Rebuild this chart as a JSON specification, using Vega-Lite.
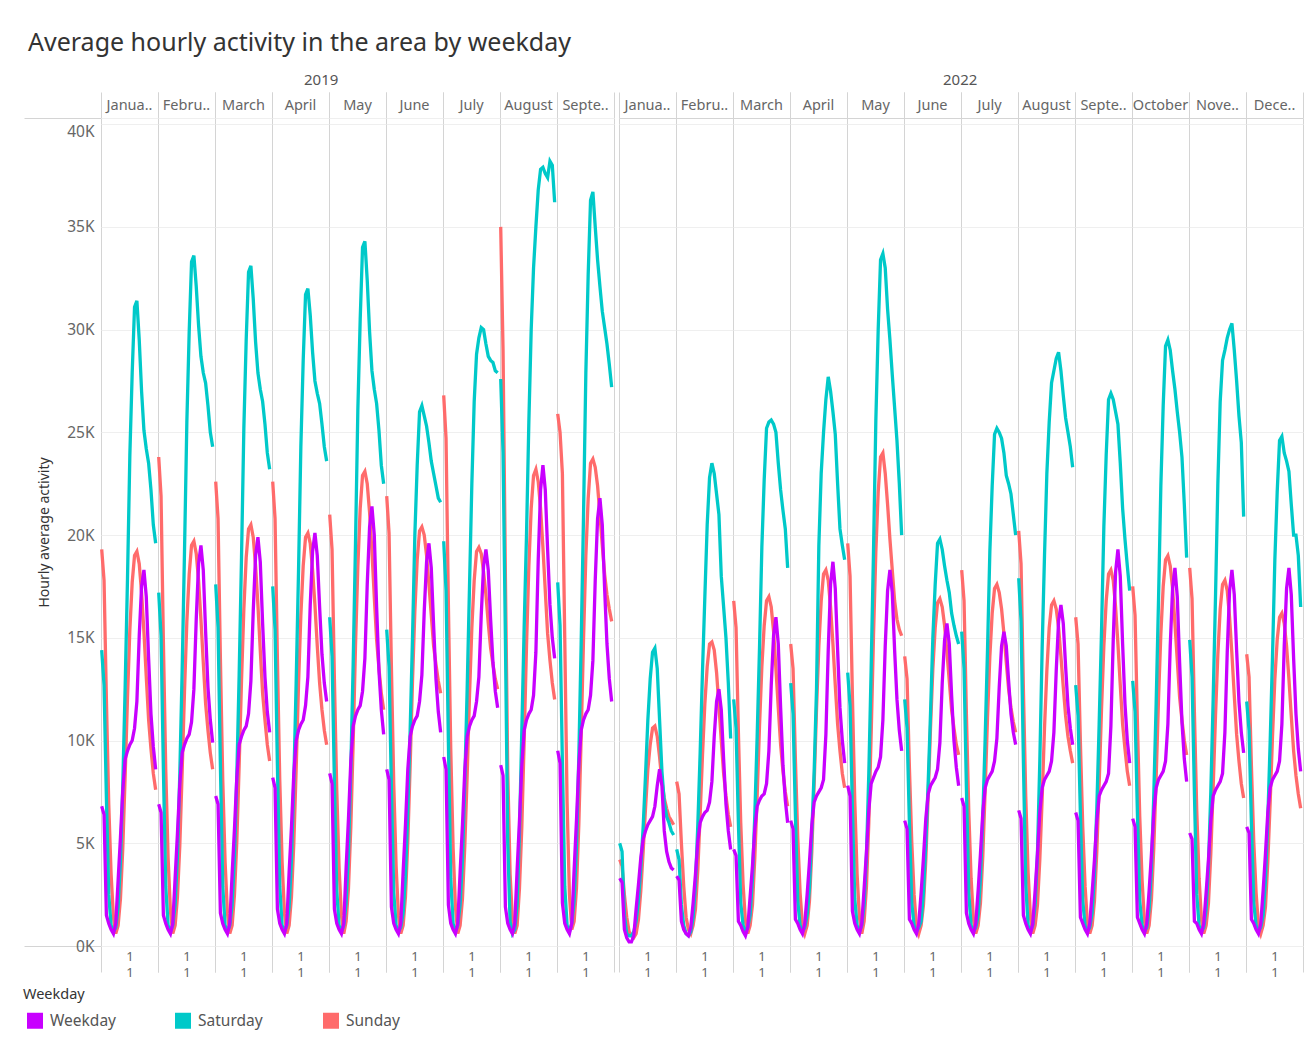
{
"$schema":"https://vega.github.io/schema/vega-lite/v6.json",
"background":"white",
"padding":{"left":23,"top":30,"right":5,"bottom":6},
"title":{"text":"Average hourly activity in the area by weekday","anchor":"start","font":"Noto Sans","fontSize":25,"fontWeight":"normal","color":"#333333","dx":5,"offset":17},
"datasets":{
"y19":[
{"m":"Janua..","h":0,"W":6.8,"Sa":14.4,"Su":19.3},{"m":"Janua..","h":1,"W":6.4,"Sa":12.7,"Su":17.8},{"m":"Janua..","h":2,"W":1.5,"Sa":7.2,"Su":12.0},{"m":"Janua..","h":3,"W":1.1,"Sa":2.5,"Su":6.9},{"m":"Janua..","h":4,"W":0.8,"Sa":1.0,"Su":3.5},{"m":"Janua..","h":5,"W":0.6,"Sa":0.7,"Su":1.4},{"m":"Janua..","h":6,"W":1.1,"Sa":0.9,"Su":0.6},{"m":"Janua..","h":7,"W":3.2,"Sa":1.9,"Su":1.0},{"m":"Janua..","h":8,"W":5.3,"Sa":4.1,"Su":2.3},{"m":"Janua..","h":9,"W":7.6,"Sa":7.9,"Su":4.8},{"m":"Janua..","h":10,"W":9.1,"Sa":12.6,"Su":8.3},{"m":"Janua..","h":11,"W":9.5,"Sa":17.9,"Su":12.1},{"m":"Janua..","h":12,"W":9.8,"Sa":23.9,"Su":15.4},{"m":"Janua..","h":13,"W":10.0,"Sa":27.9,"Su":17.7},{"m":"Janua..","h":14,"W":10.6,"Sa":31.1,"Su":19.0},{"m":"Janua..","h":15,"W":11.9,"Sa":31.4,"Su":19.2},{"m":"Janua..","h":16,"W":15.1,"Sa":29.5,"Su":18.6},{"m":"Janua..","h":17,"W":17.5,"Sa":27.0,"Su":17.2},{"m":"Janua..","h":18,"W":18.3,"Sa":25.1,"Su":15.3},{"m":"Janua..","h":19,"W":17.0,"Sa":24.2,"Su":13.1},{"m":"Janua..","h":20,"W":14.0,"Sa":23.5,"Su":11.0},{"m":"Janua..","h":21,"W":11.3,"Sa":22.2,"Su":9.6},{"m":"Janua..","h":22,"W":9.7,"Sa":20.5,"Su":8.4},{"m":"Janua..","h":23,"W":8.6,"Sa":19.6,"Su":7.6},
{"m":"Febru..","h":0,"W":6.9,"Sa":17.2,"Su":23.8},{"m":"Febru..","h":1,"W":6.5,"Sa":15.1,"Su":21.9},{"m":"Febru..","h":2,"W":1.5,"Sa":8.6,"Su":14.8},{"m":"Febru..","h":3,"W":1.1,"Sa":2.9,"Su":8.6},{"m":"Febru..","h":4,"W":0.8,"Sa":1.0,"Su":4.3},{"m":"Febru..","h":5,"W":0.6,"Sa":0.7,"Su":1.7},{"m":"Febru..","h":6,"W":1.1,"Sa":1.0,"Su":0.6},{"m":"Febru..","h":7,"W":3.3,"Sa":2.0,"Su":1.0},{"m":"Febru..","h":8,"W":5.5,"Sa":4.4,"Su":2.4},{"m":"Febru..","h":9,"W":7.9,"Sa":8.4,"Su":4.9},{"m":"Febru..","h":10,"W":9.4,"Sa":13.4,"Su":8.5},{"m":"Febru..","h":11,"W":9.8,"Sa":19.2,"Su":12.4},{"m":"Febru..","h":12,"W":10.1,"Sa":25.5,"Su":15.8},{"m":"Febru..","h":13,"W":10.3,"Sa":29.9,"Su":18.1},{"m":"Febru..","h":14,"W":10.9,"Sa":33.3,"Su":19.5},{"m":"Febru..","h":15,"W":12.5,"Sa":33.6,"Su":19.7},{"m":"Febru..","h":16,"W":15.9,"Sa":32.1,"Su":19.1},{"m":"Febru..","h":17,"W":18.6,"Sa":30.2,"Su":17.8},{"m":"Febru..","h":18,"W":19.5,"Sa":28.7,"Su":15.9},{"m":"Febru..","h":19,"W":18.3,"Sa":27.9,"Su":13.8},{"m":"Febru..","h":20,"W":15.3,"Sa":27.4,"Su":11.8},{"m":"Febru..","h":21,"W":12.6,"Sa":26.3,"Su":10.5},{"m":"Febru..","h":22,"W":11.0,"Sa":25.0,"Su":9.4},{"m":"Febru..","h":23,"W":9.9,"Sa":24.3,"Su":8.6},
{"m":"March","h":0,"W":7.3,"Sa":17.6,"Su":22.6},{"m":"March","h":1,"W":6.9,"Sa":15.5,"Su":20.8},{"m":"March","h":2,"W":1.6,"Sa":8.8,"Su":14.0},{"m":"March","h":3,"W":1.1,"Sa":2.9,"Su":8.1},{"m":"March","h":4,"W":0.8,"Sa":1.0,"Su":4.1},{"m":"March","h":5,"W":0.6,"Sa":0.7,"Su":1.6},{"m":"March","h":6,"W":1.1,"Sa":1.0,"Su":0.6},{"m":"March","h":7,"W":3.5,"Sa":2.0,"Su":1.0},{"m":"March","h":8,"W":5.7,"Sa":4.3,"Su":2.5},{"m":"March","h":9,"W":8.2,"Sa":8.3,"Su":5.1},{"m":"March","h":10,"W":9.8,"Sa":13.2,"Su":8.8},{"m":"March","h":11,"W":10.2,"Sa":18.9,"Su":12.9},{"m":"March","h":12,"W":10.5,"Sa":25.2,"Su":16.4},{"m":"March","h":13,"W":10.7,"Sa":29.5,"Su":18.9},{"m":"March","h":14,"W":11.3,"Sa":32.8,"Su":20.3},{"m":"March","h":15,"W":12.9,"Sa":33.1,"Su":20.5},{"m":"March","h":16,"W":16.3,"Sa":31.5,"Su":19.9},{"m":"March","h":17,"W":19.0,"Sa":29.4,"Su":18.5},{"m":"March","h":18,"W":19.9,"Sa":27.9,"Su":16.6},{"m":"March","h":19,"W":18.7,"Sa":27.1,"Su":14.4},{"m":"March","h":20,"W":15.7,"Sa":26.5,"Su":12.3},{"m":"March","h":21,"W":13.1,"Sa":25.4,"Su":11.0},{"m":"March","h":22,"W":11.4,"Sa":24.0,"Su":9.8},{"m":"March","h":23,"W":10.4,"Sa":23.2,"Su":9.0},
{"m":"April","h":0,"W":8.2,"Sa":17.5,"Su":22.6},{"m":"April","h":1,"W":7.7,"Sa":15.4,"Su":20.8},{"m":"April","h":2,"W":1.8,"Sa":8.8,"Su":14.0},{"m":"April","h":3,"W":1.1,"Sa":2.9,"Su":8.1},{"m":"April","h":4,"W":0.8,"Sa":1.0,"Su":4.1},{"m":"April","h":5,"W":0.6,"Sa":0.7,"Su":1.6},{"m":"April","h":6,"W":1.1,"Sa":1.0,"Su":0.6},{"m":"April","h":7,"W":3.6,"Sa":1.9,"Su":1.0},{"m":"April","h":8,"W":5.8,"Sa":4.2,"Su":2.4},{"m":"April","h":9,"W":8.4,"Sa":8.0,"Su":5.0},{"m":"April","h":10,"W":10.0,"Sa":12.8,"Su":8.6},{"m":"April","h":11,"W":10.5,"Sa":18.2,"Su":12.7},{"m":"April","h":12,"W":10.8,"Sa":24.3,"Su":16.1},{"m":"April","h":13,"W":11.0,"Sa":28.5,"Su":18.5},{"m":"April","h":14,"W":11.7,"Sa":31.7,"Su":19.9},{"m":"April","h":15,"W":13.1,"Sa":32.0,"Su":20.1},{"m":"April","h":16,"W":16.6,"Sa":30.7,"Su":19.6},{"m":"April","h":17,"W":19.2,"Sa":28.9,"Su":18.3},{"m":"April","h":18,"W":20.1,"Sa":27.5,"Su":16.6},{"m":"April","h":19,"W":19.0,"Sa":26.9,"Su":14.6},{"m":"April","h":20,"W":16.5,"Sa":26.4,"Su":12.8},{"m":"April","h":21,"W":14.2,"Sa":25.4,"Su":11.5},{"m":"April","h":22,"W":12.8,"Sa":24.3,"Su":10.5},{"m":"April","h":23,"W":11.9,"Sa":23.6,"Su":9.8},
{"m":"May","h":0,"W":8.4,"Sa":16.0,"Su":21.0},{"m":"May","h":1,"W":7.9,"Sa":14.1,"Su":19.3},{"m":"May","h":2,"W":1.8,"Sa":8.0,"Su":13.0},{"m":"May","h":3,"W":1.1,"Sa":2.7,"Su":7.6},{"m":"May","h":4,"W":0.8,"Sa":1.0,"Su":3.8},{"m":"May","h":5,"W":0.6,"Sa":0.7,"Su":1.5},{"m":"May","h":6,"W":1.1,"Sa":1.0,"Su":0.6},{"m":"May","h":7,"W":3.8,"Sa":2.1,"Su":1.2},{"m":"May","h":8,"W":6.2,"Sa":4.5,"Su":2.8},{"m":"May","h":9,"W":9.0,"Sa":8.6,"Su":5.8},{"m":"May","h":10,"W":10.7,"Sa":13.7,"Su":9.9},{"m":"May","h":11,"W":11.2,"Sa":19.6,"Su":14.6},{"m":"May","h":12,"W":11.5,"Sa":26.1,"Su":18.5},{"m":"May","h":13,"W":11.7,"Sa":30.5,"Su":21.3},{"m":"May","h":14,"W":12.4,"Sa":34.0,"Su":22.9},{"m":"May","h":15,"W":14.0,"Sa":34.3,"Su":23.1},{"m":"May","h":16,"W":17.6,"Sa":32.4,"Su":22.5},{"m":"May","h":17,"W":20.4,"Sa":29.9,"Su":21.1},{"m":"May","h":18,"W":21.4,"Sa":28.0,"Su":19.2},{"m":"May","h":19,"W":20.0,"Sa":27.1,"Su":17.0},{"m":"May","h":20,"W":16.5,"Sa":26.4,"Su":14.9},{"m":"May","h":21,"W":13.4,"Sa":25.1,"Su":13.5},{"m":"May","h":22,"W":11.5,"Sa":23.4,"Su":12.3},{"m":"May","h":23,"W":10.3,"Sa":22.5,"Su":11.5},
{"m":"June","h":0,"W":8.6,"Sa":15.4,"Su":21.9},{"m":"June","h":1,"W":8.1,"Sa":13.6,"Su":20.1},{"m":"June","h":2,"W":1.9,"Sa":7.7,"Su":13.6},{"m":"June","h":3,"W":1.1,"Sa":2.6,"Su":7.9},{"m":"June","h":4,"W":0.8,"Sa":1.0,"Su":3.9},{"m":"June","h":5,"W":0.6,"Sa":0.7,"Su":1.5},{"m":"June","h":6,"W":1.1,"Sa":0.9,"Su":0.6},{"m":"June","h":7,"W":3.6,"Sa":1.6,"Su":1.0},{"m":"June","h":8,"W":5.9,"Sa":3.4,"Su":2.4},{"m":"June","h":9,"W":8.6,"Sa":6.6,"Su":5.1},{"m":"June","h":10,"W":10.2,"Sa":10.5,"Su":8.8},{"m":"June","h":11,"W":10.7,"Sa":15.0,"Su":12.9},{"m":"June","h":12,"W":11.0,"Sa":20.0,"Su":16.3},{"m":"June","h":13,"W":11.2,"Sa":23.4,"Su":18.8},{"m":"June","h":14,"W":11.9,"Sa":26.0,"Su":20.2},{"m":"June","h":15,"W":13.2,"Sa":26.3,"Su":20.4},{"m":"June","h":16,"W":16.3,"Sa":25.8,"Su":20.0},{"m":"June","h":17,"W":18.7,"Sa":25.3,"Su":19.0},{"m":"June","h":18,"W":19.6,"Sa":24.5,"Su":17.6},{"m":"June","h":19,"W":18.4,"Sa":23.6,"Su":16.1},{"m":"June","h":20,"W":15.6,"Sa":23.0,"Su":14.6},{"m":"June","h":21,"W":13.0,"Sa":22.4,"Su":13.7},{"m":"June","h":22,"W":11.4,"Sa":21.8,"Su":12.9},{"m":"June","h":23,"W":10.4,"Sa":21.6,"Su":12.3},
{"m":"July","h":0,"W":9.2,"Sa":19.7,"Su":26.8},{"m":"July","h":1,"W":8.6,"Sa":17.3,"Su":24.7},{"m":"July","h":2,"W":2.0,"Sa":9.9,"Su":16.6},{"m":"July","h":3,"W":1.1,"Sa":3.3,"Su":9.6},{"m":"July","h":4,"W":0.8,"Sa":1.1,"Su":4.8},{"m":"July","h":5,"W":0.6,"Sa":0.7,"Su":1.9},{"m":"July","h":6,"W":1.1,"Sa":1.0,"Su":0.6},{"m":"July","h":7,"W":3.6,"Sa":2.0,"Su":1.0},{"m":"July","h":8,"W":5.9,"Sa":4.2,"Su":2.3},{"m":"July","h":9,"W":8.6,"Sa":8.0,"Su":4.9},{"m":"July","h":10,"W":10.2,"Sa":12.5,"Su":8.3},{"m":"July","h":11,"W":10.7,"Sa":17.5,"Su":12.2},{"m":"July","h":12,"W":11.0,"Sa":22.5,"Su":15.5},{"m":"July","h":13,"W":11.2,"Sa":26.5,"Su":17.8},{"m":"July","h":14,"W":11.9,"Sa":28.8,"Su":19.2},{"m":"July","h":15,"W":13.1,"Sa":29.6,"Su":19.4},{"m":"July","h":16,"W":16.1,"Sa":30.1,"Su":19.1},{"m":"July","h":17,"W":18.5,"Sa":30.0,"Su":18.2},{"m":"July","h":18,"W":19.3,"Sa":29.3,"Su":17.1},{"m":"July","h":19,"W":18.3,"Sa":28.7,"Su":15.7},{"m":"July","h":20,"W":15.9,"Sa":28.5,"Su":14.5},{"m":"July","h":21,"W":13.8,"Sa":28.4,"Su":13.7},{"m":"July","h":22,"W":12.4,"Sa":28.0,"Su":13.0},{"m":"July","h":23,"W":11.6,"Sa":27.9,"Su":12.5},
{"m":"August","h":0,"W":8.8,"Sa":27.6,"Su":35.0},{"m":"August","h":1,"W":8.3,"Sa":24.0,"Su":29.0},{"m":"August","h":2,"W":1.9,"Sa":15.0,"Su":18.0},{"m":"August","h":3,"W":1.1,"Sa":5.0,"Su":8.5},{"m":"August","h":4,"W":0.8,"Sa":1.2,"Su":3.5},{"m":"August","h":5,"W":0.6,"Sa":0.6,"Su":1.3},{"m":"August","h":6,"W":1.1,"Sa":0.8,"Su":0.6},{"m":"August","h":7,"W":3.7,"Sa":2.0,"Su":1.0},{"m":"August","h":8,"W":6.1,"Sa":5.5,"Su":2.8},{"m":"August","h":9,"W":8.8,"Sa":10.5,"Su":5.8},{"m":"August","h":10,"W":10.5,"Sa":15.5,"Su":10.0},{"m":"August","h":11,"W":11.0,"Sa":20.0,"Su":14.6},{"m":"August","h":12,"W":11.3,"Sa":25.5,"Su":18.5},{"m":"August","h":13,"W":11.5,"Sa":30.0,"Su":21.3},{"m":"August","h":14,"W":12.2,"Sa":33.0,"Su":22.9},{"m":"August","h":15,"W":14.3,"Sa":35.0,"Su":23.2},{"m":"August","h":16,"W":18.8,"Sa":36.8,"Su":22.6},{"m":"August","h":17,"W":22.2,"Sa":37.8,"Su":21.3},{"m":"August","h":18,"W":23.4,"Sa":37.9,"Su":19.4},{"m":"August","h":19,"W":22.2,"Sa":37.6,"Su":17.3},{"m":"August","h":20,"W":19.3,"Sa":37.4,"Su":15.2},{"m":"August","h":21,"W":16.6,"Sa":38.2,"Su":13.9},{"m":"August","h":22,"W":15.0,"Sa":38.0,"Su":12.8},{"m":"August","h":23,"W":14.0,"Sa":36.2,"Su":12.0},
{"m":"Septe..","h":0,"W":9.5,"Sa":17.7,"Su":25.9},{"m":"Septe..","h":1,"W":8.9,"Sa":15.6,"Su":25.0},{"m":"Septe..","h":2,"W":2.1,"Sa":8.9,"Su":23.0},{"m":"Septe..","h":3,"W":1.1,"Sa":2.9,"Su":15.0},{"m":"Septe..","h":4,"W":0.8,"Sa":1.0,"Su":7.0},{"m":"Septe..","h":5,"W":0.6,"Sa":0.7,"Su":2.5},{"m":"Septe..","h":6,"W":1.1,"Sa":1.1,"Su":0.8},{"m":"Septe..","h":7,"W":3.7,"Sa":2.2,"Su":1.2},{"m":"Septe..","h":8,"W":6.1,"Sa":4.8,"Su":2.8},{"m":"Septe..","h":9,"W":8.8,"Sa":9.2,"Su":5.9},{"m":"Septe..","h":10,"W":10.5,"Sa":14.7,"Su":10.2},{"m":"Septe..","h":11,"W":11.0,"Sa":20.9,"Su":14.9},{"m":"Septe..","h":12,"W":11.3,"Sa":27.9,"Su":19.0},{"m":"Septe..","h":13,"W":11.5,"Sa":32.7,"Su":21.8},{"m":"Septe..","h":14,"W":12.2,"Sa":36.3,"Su":23.5},{"m":"Septe..","h":15,"W":13.9,"Sa":36.7,"Su":23.7},{"m":"Septe..","h":16,"W":17.8,"Sa":35.0,"Su":23.3},{"m":"Septe..","h":17,"W":20.8,"Sa":33.4,"Su":22.4},{"m":"Septe..","h":18,"W":21.8,"Sa":32.1,"Su":21.0},{"m":"Septe..","h":19,"W":20.5,"Sa":30.9,"Su":19.5},{"m":"Septe..","h":20,"W":17.4,"Sa":30.1,"Su":18.1},{"m":"Septe..","h":21,"W":14.7,"Sa":29.3,"Su":17.1},{"m":"Septe..","h":22,"W":13.0,"Sa":28.3,"Su":16.4},{"m":"Septe..","h":23,"W":11.9,"Sa":27.2,"Su":15.8}
],
"y22":[
{"m":"Janua..","h":0,"W":3.3,"Sa":5.0,"Su":4.2},{"m":"Janua..","h":1,"W":3.1,"Sa":4.6,"Su":3.9},{"m":"Janua..","h":2,"W":0.8,"Sa":1.5,"Su":2.5},{"m":"Janua..","h":3,"W":0.4,"Sa":0.6,"Su":1.4},{"m":"Janua..","h":4,"W":0.2,"Sa":0.5,"Su":0.7},{"m":"Janua..","h":5,"W":0.2,"Sa":0.5,"Su":0.5},{"m":"Janua..","h":6,"W":0.5,"Sa":0.7,"Su":0.4},{"m":"Janua..","h":7,"W":1.8,"Sa":1.2,"Su":0.6},{"m":"Janua..","h":8,"W":3.0,"Sa":2.2,"Su":1.3},{"m":"Janua..","h":9,"W":4.3,"Sa":3.8,"Su":2.7},{"m":"Janua..","h":10,"W":5.2,"Sa":5.8,"Su":4.6},{"m":"Janua..","h":11,"W":5.6,"Sa":8.3,"Su":6.7},{"m":"Janua..","h":12,"W":5.9,"Sa":11.0,"Su":8.6},{"m":"Janua..","h":13,"W":6.1,"Sa":13.0,"Su":9.8},{"m":"Janua..","h":14,"W":6.3,"Sa":14.3,"Su":10.6},{"m":"Janua..","h":15,"W":6.8,"Sa":14.5,"Su":10.7},{"m":"Janua..","h":16,"W":7.8,"Sa":13.5,"Su":10.2},{"m":"Janua..","h":17,"W":8.6,"Sa":11.0,"Su":9.2},{"m":"Janua..","h":18,"W":7.8,"Sa":8.5,"Su":8.0},{"m":"Janua..","h":19,"W":5.6,"Sa":7.0,"Su":7.2},{"m":"Janua..","h":20,"W":4.6,"Sa":6.3,"Su":6.7},{"m":"Janua..","h":21,"W":4.1,"Sa":6.0,"Su":6.3},{"m":"Janua..","h":22,"W":3.8,"Sa":5.6,"Su":6.1},{"m":"Janua..","h":23,"W":3.7,"Sa":5.4,"Su":5.9},
{"m":"Febru..","h":0,"W":3.4,"Sa":4.7,"Su":8.0},{"m":"Febru..","h":1,"W":3.2,"Sa":4.2,"Su":7.4},{"m":"Febru..","h":2,"W":1.2,"Sa":2.0,"Su":5.0},{"m":"Febru..","h":3,"W":0.8,"Sa":1.0,"Su":2.9},{"m":"Febru..","h":4,"W":0.6,"Sa":0.6,"Su":1.4},{"m":"Febru..","h":5,"W":0.5,"Sa":0.5,"Su":0.8},{"m":"Febru..","h":6,"W":0.9,"Sa":0.7,"Su":0.6},{"m":"Febru..","h":7,"W":2.1,"Sa":1.4,"Su":1.0},{"m":"Febru..","h":8,"W":3.5,"Sa":3.0,"Su":1.8},{"m":"Febru..","h":9,"W":5.1,"Sa":5.9,"Su":3.7},{"m":"Febru..","h":10,"W":6.0,"Sa":9.4,"Su":6.4},{"m":"Febru..","h":11,"W":6.3,"Sa":13.4,"Su":9.3},{"m":"Febru..","h":12,"W":6.5,"Sa":17.0,"Su":11.8},{"m":"Febru..","h":13,"W":6.6,"Sa":20.5,"Su":13.6},{"m":"Febru..","h":14,"W":7.0,"Sa":22.8,"Su":14.7},{"m":"Febru..","h":15,"W":8.0,"Sa":23.5,"Su":14.8},{"m":"Febru..","h":16,"W":10.2,"Sa":23.0,"Su":14.4},{"m":"Febru..","h":17,"W":11.9,"Sa":22.0,"Su":13.3},{"m":"Febru..","h":18,"W":12.5,"Sa":21.0,"Su":11.7},{"m":"Febru..","h":19,"W":11.5,"Sa":18.0,"Su":10.0},{"m":"Febru..","h":20,"W":9.1,"Sa":16.5,"Su":8.4},{"m":"Febru..","h":21,"W":6.9,"Sa":15.0,"Su":7.3},{"m":"Febru..","h":22,"W":5.6,"Sa":12.8,"Su":6.4},{"m":"Febru..","h":23,"W":4.7,"Sa":10.1,"Su":5.8},
{"m":"March","h":0,"W":4.7,"Sa":12.0,"Su":16.8},{"m":"March","h":1,"W":4.4,"Sa":10.6,"Su":15.5},{"m":"March","h":2,"W":1.2,"Sa":6.0,"Su":10.4},{"m":"March","h":3,"W":1.0,"Sa":2.1,"Su":6.0},{"m":"March","h":4,"W":0.7,"Sa":1.0,"Su":3.0},{"m":"March","h":5,"W":0.5,"Sa":0.7,"Su":1.2},{"m":"March","h":6,"W":0.9,"Sa":0.9,"Su":0.6},{"m":"March","h":7,"W":2.4,"Sa":1.5,"Su":1.0},{"m":"March","h":8,"W":3.9,"Sa":3.3,"Su":2.0},{"m":"March","h":9,"W":5.7,"Sa":6.4,"Su":4.3},{"m":"March","h":10,"W":6.8,"Sa":10.2,"Su":7.3},{"m":"March","h":11,"W":7.1,"Sa":14.5,"Su":10.7},{"m":"March","h":12,"W":7.3,"Sa":19.4,"Su":13.6},{"m":"March","h":13,"W":7.4,"Sa":22.7,"Su":15.6},{"m":"March","h":14,"W":7.9,"Sa":25.2,"Su":16.8},{"m":"March","h":15,"W":9.5,"Sa":25.5,"Su":17.0},{"m":"March","h":16,"W":12.7,"Sa":25.6,"Su":16.5},{"m":"March","h":17,"W":15.1,"Sa":25.4,"Su":15.3},{"m":"March","h":18,"W":16.0,"Sa":25.0,"Su":13.5},{"m":"March","h":19,"W":14.7,"Sa":23.5,"Su":11.6},{"m":"March","h":20,"W":11.6,"Sa":22.2,"Su":9.8},{"m":"March","h":21,"W":8.8,"Sa":21.2,"Su":8.5},{"m":"March","h":22,"W":7.1,"Sa":20.3,"Su":7.5},{"m":"March","h":23,"W":6.0,"Sa":18.4,"Su":6.8},
{"m":"April","h":0,"W":6.1,"Sa":12.8,"Su":14.7},{"m":"April","h":1,"W":5.7,"Sa":11.3,"Su":13.5},{"m":"April","h":2,"W":1.3,"Sa":6.4,"Su":9.1},{"m":"April","h":3,"W":1.1,"Sa":2.2,"Su":5.3},{"m":"April","h":4,"W":0.8,"Sa":1.0,"Su":2.6},{"m":"April","h":5,"W":0.6,"Sa":0.7,"Su":1.0},{"m":"April","h":6,"W":1.1,"Sa":0.9,"Su":0.6},{"m":"April","h":7,"W":2.5,"Sa":1.5,"Su":1.0},{"m":"April","h":8,"W":4.1,"Sa":2.8,"Su":2.2},{"m":"April","h":9,"W":5.9,"Sa":5.5,"Su":4.6},{"m":"April","h":10,"W":7.0,"Sa":8.5,"Su":7.9},{"m":"April","h":11,"W":7.3,"Sa":12.5,"Su":11.5},{"m":"April","h":12,"W":7.5,"Sa":19.5,"Su":14.6},{"m":"April","h":13,"W":7.7,"Sa":23.0,"Su":16.8},{"m":"April","h":14,"W":8.1,"Sa":25.0,"Su":18.1},{"m":"April","h":15,"W":10.3,"Sa":26.6,"Su":18.3},{"m":"April","h":16,"W":14.4,"Sa":27.7,"Su":17.8},{"m":"April","h":17,"W":17.6,"Sa":27.0,"Su":16.5},{"m":"April","h":18,"W":18.7,"Sa":26.0,"Su":14.7},{"m":"April","h":19,"W":17.4,"Sa":24.9,"Su":12.7},{"m":"April","h":20,"W":14.4,"Sa":22.5,"Su":10.8},{"m":"April","h":21,"W":11.6,"Sa":20.3,"Su":9.5},{"m":"April","h":22,"W":10.0,"Sa":19.5,"Su":8.4},{"m":"April","h":23,"W":8.9,"Sa":18.8,"Su":7.7},
{"m":"May","h":0,"W":7.8,"Sa":13.3,"Su":19.6},{"m":"May","h":1,"W":7.3,"Sa":11.7,"Su":18.0},{"m":"May","h":2,"W":1.7,"Sa":6.7,"Su":12.2},{"m":"May","h":3,"W":1.1,"Sa":2.3,"Su":7.1},{"m":"May","h":4,"W":0.8,"Sa":1.0,"Su":3.5},{"m":"May","h":5,"W":0.6,"Sa":0.7,"Su":1.4},{"m":"May","h":6,"W":1.1,"Sa":1.0,"Su":0.6},{"m":"May","h":7,"W":2.8,"Sa":2.0,"Su":1.2},{"m":"May","h":8,"W":4.6,"Sa":4.4,"Su":2.9},{"m":"May","h":9,"W":6.6,"Sa":8.4,"Su":6.0},{"m":"May","h":10,"W":7.9,"Sa":13.5,"Su":10.3},{"m":"May","h":11,"W":8.2,"Sa":19.2,"Su":15.1},{"m":"May","h":12,"W":8.5,"Sa":25.6,"Su":19.2},{"m":"May","h":13,"W":8.7,"Sa":30.0,"Su":22.1},{"m":"May","h":14,"W":9.2,"Sa":33.4,"Su":23.8},{"m":"May","h":15,"W":11.0,"Sa":33.7,"Su":24.0},{"m":"May","h":16,"W":14.6,"Sa":33.0,"Su":23.0},{"m":"May","h":17,"W":17.3,"Sa":31.0,"Su":21.5},{"m":"May","h":18,"W":18.3,"Sa":29.5,"Su":19.8},{"m":"May","h":19,"W":17.2,"Sa":27.8,"Su":18.3},{"m":"May","h":20,"W":14.4,"Sa":26.2,"Su":16.8},{"m":"May","h":21,"W":12.0,"Sa":24.6,"Su":15.9},{"m":"May","h":22,"W":10.5,"Sa":22.5,"Su":15.4},{"m":"May","h":23,"W":9.5,"Sa":20.0,"Su":15.1},
{"m":"June","h":0,"W":6.1,"Sa":12.0,"Su":14.1},{"m":"June","h":1,"W":5.7,"Sa":10.6,"Su":13.0},{"m":"June","h":2,"W":1.3,"Sa":6.0,"Su":8.7},{"m":"June","h":3,"W":1.1,"Sa":2.1,"Su":5.1},{"m":"June","h":4,"W":0.8,"Sa":1.0,"Su":2.5},{"m":"June","h":5,"W":0.6,"Sa":0.7,"Su":1.0},{"m":"June","h":6,"W":1.1,"Sa":0.9,"Su":0.6},{"m":"June","h":7,"W":2.6,"Sa":1.2,"Su":1.0},{"m":"June","h":8,"W":4.3,"Sa":2.6,"Su":2.0},{"m":"June","h":9,"W":6.2,"Sa":5.0,"Su":4.2},{"m":"June","h":10,"W":7.4,"Sa":7.9,"Su":7.3},{"m":"June","h":11,"W":7.8,"Sa":11.3,"Su":10.6},{"m":"June","h":12,"W":8.0,"Sa":15.0,"Su":13.5},{"m":"June","h":13,"W":8.2,"Sa":17.6,"Su":15.5},{"m":"June","h":14,"W":8.6,"Sa":19.6,"Su":16.7},{"m":"June","h":15,"W":9.9,"Sa":19.8,"Su":16.9},{"m":"June","h":16,"W":12.8,"Sa":19.3,"Su":16.5},{"m":"June","h":17,"W":14.9,"Sa":18.5,"Su":15.6},{"m":"June","h":18,"W":15.7,"Sa":17.8,"Su":14.3},{"m":"June","h":19,"W":14.7,"Sa":17.2,"Su":12.9},{"m":"June","h":20,"W":12.2,"Sa":16.2,"Su":11.5},{"m":"June","h":21,"W":10.0,"Sa":15.6,"Su":10.6},{"m":"June","h":22,"W":8.7,"Sa":15.1,"Su":9.8},{"m":"June","h":23,"W":7.8,"Sa":14.7,"Su":9.3},
{"m":"July","h":0,"W":7.2,"Sa":15.3,"Su":18.3},{"m":"July","h":1,"W":6.8,"Sa":13.5,"Su":16.8},{"m":"July","h":2,"W":1.6,"Sa":7.7,"Su":11.3},{"m":"July","h":3,"W":1.1,"Sa":2.6,"Su":6.6},{"m":"July","h":4,"W":0.8,"Sa":1.0,"Su":3.3},{"m":"July","h":5,"W":0.6,"Sa":0.7,"Su":1.3},{"m":"July","h":6,"W":1.1,"Sa":0.9,"Su":0.6},{"m":"July","h":7,"W":2.7,"Sa":1.5,"Su":1.0},{"m":"July","h":8,"W":4.5,"Sa":3.3,"Su":2.1},{"m":"July","h":9,"W":6.5,"Sa":6.3,"Su":4.4},{"m":"July","h":10,"W":7.7,"Sa":10.1,"Su":7.6},{"m":"July","h":11,"W":8.1,"Sa":14.4,"Su":11.1},{"m":"July","h":12,"W":8.3,"Sa":19.2,"Su":14.1},{"m":"July","h":13,"W":8.5,"Sa":22.4,"Su":16.2},{"m":"July","h":14,"W":9.0,"Sa":24.9,"Su":17.4},{"m":"July","h":15,"W":10.1,"Sa":25.2,"Su":17.6},{"m":"July","h":16,"W":12.6,"Sa":25.0,"Su":17.2},{"m":"July","h":17,"W":14.6,"Sa":24.7,"Su":16.4},{"m":"July","h":18,"W":15.3,"Sa":24.0,"Su":15.2},{"m":"July","h":19,"W":14.6,"Sa":22.9,"Su":13.8},{"m":"July","h":20,"W":12.9,"Sa":22.5,"Su":12.5},{"m":"July","h":21,"W":11.3,"Sa":22.0,"Su":11.6},{"m":"July","h":22,"W":10.4,"Sa":21.0,"Su":10.9},{"m":"July","h":23,"W":9.8,"Sa":20.0,"Su":10.4},
{"m":"August","h":0,"W":6.6,"Sa":17.9,"Su":20.2},{"m":"August","h":1,"W":6.2,"Sa":15.8,"Su":18.6},{"m":"August","h":2,"W":1.5,"Sa":9.0,"Su":12.5},{"m":"August","h":3,"W":1.1,"Sa":3.0,"Su":7.3},{"m":"August","h":4,"W":0.8,"Sa":1.0,"Su":3.6},{"m":"August","h":5,"W":0.6,"Sa":0.7,"Su":1.4},{"m":"August","h":6,"W":1.1,"Sa":1.0,"Su":0.6},{"m":"August","h":7,"W":2.7,"Sa":2.0,"Su":1.0},{"m":"August","h":8,"W":4.5,"Sa":4.5,"Su":2.0},{"m":"August","h":9,"W":6.5,"Sa":9.0,"Su":4.2},{"m":"August","h":10,"W":7.7,"Sa":14.5,"Su":7.2},{"m":"August","h":11,"W":8.1,"Sa":19.0,"Su":10.6},{"m":"August","h":12,"W":8.3,"Sa":23.0,"Su":13.4},{"m":"August","h":13,"W":8.5,"Sa":25.5,"Su":15.5},{"m":"August","h":14,"W":9.0,"Sa":27.4,"Su":16.6},{"m":"August","h":15,"W":10.4,"Sa":28.0,"Su":16.8},{"m":"August","h":16,"W":13.4,"Sa":28.6,"Su":16.4},{"m":"August","h":17,"W":15.8,"Sa":28.9,"Su":15.5},{"m":"August","h":18,"W":16.6,"Sa":28.0,"Su":14.1},{"m":"August","h":19,"W":15.7,"Sa":26.8,"Su":12.6},{"m":"August","h":20,"W":13.6,"Sa":25.7,"Su":11.2},{"m":"August","h":21,"W":11.7,"Sa":25.0,"Su":10.2},{"m":"August","h":22,"W":10.6,"Sa":24.3,"Su":9.5},{"m":"August","h":23,"W":9.8,"Sa":23.3,"Su":8.9},
{"m":"Septe..","h":0,"W":6.5,"Sa":12.7,"Su":16.0},{"m":"Septe..","h":1,"W":6.1,"Sa":11.2,"Su":14.7},{"m":"Septe..","h":2,"W":1.4,"Sa":6.4,"Su":9.9},{"m":"Septe..","h":3,"W":1.1,"Sa":2.2,"Su":5.8},{"m":"Septe..","h":4,"W":0.8,"Sa":1.0,"Su":2.9},{"m":"Septe..","h":5,"W":0.6,"Sa":0.7,"Su":1.1},{"m":"Septe..","h":6,"W":1.1,"Sa":0.9,"Su":0.6},{"m":"Septe..","h":7,"W":2.6,"Sa":1.6,"Su":1.0},{"m":"Septe..","h":8,"W":4.2,"Sa":3.5,"Su":2.2},{"m":"Septe..","h":9,"W":6.1,"Sa":6.7,"Su":4.6},{"m":"Septe..","h":10,"W":7.3,"Sa":10.8,"Su":7.9},{"m":"Septe..","h":11,"W":7.6,"Sa":15.3,"Su":11.5},{"m":"Septe..","h":12,"W":7.8,"Sa":20.4,"Su":14.6},{"m":"Septe..","h":13,"W":8.0,"Sa":23.9,"Su":16.8},{"m":"Septe..","h":14,"W":8.4,"Sa":26.6,"Su":18.1},{"m":"Septe..","h":15,"W":10.7,"Sa":26.9,"Su":18.3},{"m":"Septe..","h":16,"W":14.9,"Sa":26.6,"Su":17.8},{"m":"Septe..","h":17,"W":18.2,"Sa":26.0,"Su":16.5},{"m":"Septe..","h":18,"W":19.3,"Sa":25.4,"Su":14.7},{"m":"Septe..","h":19,"W":18.0,"Sa":23.5,"Su":12.7},{"m":"Septe..","h":20,"W":14.7,"Sa":21.3,"Su":10.8},{"m":"Septe..","h":21,"W":11.8,"Sa":19.8,"Su":9.6},{"m":"Septe..","h":22,"W":10.0,"Sa":18.5,"Su":8.5},{"m":"Septe..","h":23,"W":8.9,"Sa":17.3,"Su":7.8},
{"m":"October","h":0,"W":6.2,"Sa":12.9,"Su":17.5},{"m":"October","h":1,"W":5.8,"Sa":11.4,"Su":16.1},{"m":"October","h":2,"W":1.4,"Sa":6.5,"Su":10.9},{"m":"October","h":3,"W":1.1,"Sa":2.2,"Su":6.3},{"m":"October","h":4,"W":0.8,"Sa":1.0,"Su":3.2},{"m":"October","h":5,"W":0.6,"Sa":0.7,"Su":1.2},{"m":"October","h":6,"W":1.1,"Sa":0.9,"Su":0.6},{"m":"October","h":7,"W":2.7,"Sa":1.8,"Su":1.0},{"m":"October","h":8,"W":4.5,"Sa":3.8,"Su":2.3},{"m":"October","h":9,"W":6.5,"Sa":7.4,"Su":4.8},{"m":"October","h":10,"W":7.7,"Sa":11.8,"Su":8.2},{"m":"October","h":11,"W":8.1,"Sa":16.8,"Su":12.0},{"m":"October","h":12,"W":8.3,"Sa":22.4,"Su":15.2},{"m":"October","h":13,"W":8.5,"Sa":26.3,"Su":17.5},{"m":"October","h":14,"W":9.0,"Sa":29.2,"Su":18.8},{"m":"October","h":15,"W":10.8,"Sa":29.5,"Su":19.0},{"m":"October","h":16,"W":14.6,"Sa":29.0,"Su":18.5},{"m":"October","h":17,"W":17.4,"Sa":28.0,"Su":17.4},{"m":"October","h":18,"W":18.4,"Sa":27.1,"Su":15.7},{"m":"October","h":19,"W":17.0,"Sa":26.0,"Su":13.9},{"m":"October","h":20,"W":13.8,"Sa":25.0,"Su":12.1},{"m":"October","h":21,"W":10.9,"Sa":23.8,"Su":11.0},{"m":"October","h":22,"W":9.1,"Sa":21.5,"Su":10.0},{"m":"October","h":23,"W":8.0,"Sa":18.9,"Su":9.3},
{"m":"Nove..","h":0,"W":5.5,"Sa":14.9,"Su":18.4},{"m":"Nove..","h":1,"W":5.2,"Sa":13.1,"Su":16.9},{"m":"Nove..","h":2,"W":1.2,"Sa":7.5,"Su":11.4},{"m":"Nove..","h":3,"W":1.1,"Sa":2.5,"Su":6.6},{"m":"Nove..","h":4,"W":0.8,"Sa":1.0,"Su":3.3},{"m":"Nove..","h":5,"W":0.6,"Sa":0.7,"Su":1.3},{"m":"Nove..","h":6,"W":1.1,"Sa":0.9,"Su":0.6},{"m":"Nove..","h":7,"W":2.6,"Sa":1.8,"Su":1.0},{"m":"Nove..","h":8,"W":4.2,"Sa":3.9,"Su":2.1},{"m":"Nove..","h":9,"W":6.1,"Sa":7.5,"Su":4.5},{"m":"Nove..","h":10,"W":7.3,"Sa":12.0,"Su":7.7},{"m":"Nove..","h":11,"W":7.6,"Sa":17.0,"Su":11.2},{"m":"Nove..","h":12,"W":7.8,"Sa":22.5,"Su":14.2},{"m":"Nove..","h":13,"W":8.0,"Sa":26.5,"Su":16.4},{"m":"Nove..","h":14,"W":8.4,"Sa":28.5,"Su":17.6},{"m":"Nove..","h":15,"W":10.4,"Sa":29.0,"Su":17.8},{"m":"Nove..","h":16,"W":14.3,"Sa":29.6,"Su":17.3},{"m":"Nove..","h":17,"W":17.3,"Sa":30.0,"Su":16.0},{"m":"Nove..","h":18,"W":18.3,"Sa":30.3,"Su":14.2},{"m":"Nove..","h":19,"W":17.1,"Sa":29.0,"Su":12.2},{"m":"Nove..","h":20,"W":14.4,"Sa":27.5,"Su":10.3},{"m":"Nove..","h":21,"W":11.9,"Sa":25.8,"Su":9.0},{"m":"Nove..","h":22,"W":10.4,"Sa":24.5,"Su":7.9},{"m":"Nove..","h":23,"W":9.4,"Sa":20.9,"Su":7.2},
{"m":"Dece..","h":0,"W":5.8,"Sa":11.9,"Su":14.2},{"m":"Dece..","h":1,"W":5.5,"Sa":10.5,"Su":13.1},{"m":"Dece..","h":2,"W":1.3,"Sa":6.0,"Su":8.8},{"m":"Dece..","h":3,"W":1.1,"Sa":2.1,"Su":5.1},{"m":"Dece..","h":4,"W":0.8,"Sa":1.0,"Su":2.6},{"m":"Dece..","h":5,"W":0.6,"Sa":0.7,"Su":1.0},{"m":"Dece..","h":6,"W":1.1,"Sa":0.9,"Su":0.6},{"m":"Dece..","h":7,"W":2.7,"Sa":1.5,"Su":1.0},{"m":"Dece..","h":8,"W":4.5,"Sa":3.2,"Su":1.9},{"m":"Dece..","h":9,"W":6.5,"Sa":6.2,"Su":4.1},{"m":"Dece..","h":10,"W":7.7,"Sa":9.9,"Su":7.0},{"m":"Dece..","h":11,"W":8.1,"Sa":14.1,"Su":10.2},{"m":"Dece..","h":12,"W":8.3,"Sa":18.8,"Su":13.0},{"m":"Dece..","h":13,"W":8.5,"Sa":22.1,"Su":14.9},{"m":"Dece..","h":14,"W":9.0,"Sa":24.6,"Su":16.0},{"m":"Dece..","h":15,"W":10.8,"Sa":24.8,"Su":16.2},{"m":"Dece..","h":16,"W":14.6,"Sa":24.0,"Su":15.7},{"m":"Dece..","h":17,"W":17.4,"Sa":23.6,"Su":14.6},{"m":"Dece..","h":18,"W":18.4,"Sa":23.1,"Su":13.0},{"m":"Dece..","h":19,"W":17.1,"Sa":21.5,"Su":11.2},{"m":"Dece..","h":20,"W":14.0,"Sa":20.0,"Su":9.5},{"m":"Dece..","h":21,"W":11.3,"Sa":20.0,"Su":8.3},{"m":"Dece..","h":22,"W":9.6,"Sa":19.0,"Su":7.4},{"m":"Dece..","h":23,"W":8.5,"Sa":16.5,"Su":6.7}
]
},
"spacing":-16,
"resolve":{"scale":{"color":"shared","y":"shared"}},
"hconcat":[
{
"data":{"name":"y19"},
"bounds":"flush",
"title":{"text":"2019","anchor":"middle","fontSize":15,"fontWeight":"normal","color":"#555555","font":"Noto Sans","offset":4},
"transform":[{"fold":["Su","Sa","W"],"as":["s","v"]}],
"facet":{"column":{"field":"m","type":"ordinal","sort":["Janua..","Febru..","March","April","May","June","July","August","Septe.."],"header":{"title":null,"labelFontSize":14.5,"labelColor":"#666666","labelFont":"Noto Sans","labelPadding":-22,"labelLimit":0}}},
"spacing":0,
"spec":{
"width":57,"height":828,
"layer":[
{"mark":{"type":"line","strokeWidth":3.3},
"encoding":{
"x":{"field":"h","type":"quantitative","scale":{"domain":[-0.3,24],"nice":false,"zero":false},
"axis":{"orient":"bottom","values":[-0.3,11.85,24],"title":null,"grid":false,"domain":false,"ticks":true,"tickSize":26,"tickColor":"#d4d4d4","tickOpacity":{"condition":{"test":"datum.value < 0 || datum.value > 23","value":1},"value":0},"labelExpr":"(datum.value < 0 || datum.value > 23) ? '' : ['1','1']","labelPadding":-22,"labelFontSize":13,"labelColor":"#666666","labelFont":"Noto Sans","labelLineHeight":16,"labelOverlap":false,"labelFlush":false,"labelBaseline":"top"}},
"y":{"field":"v","type":"quantitative","scale":{"domain":[0,40.3],"nice":false},
"axis":{"values":[0,5,10,15,20,25,30,35,40,40.3],"labelExpr":"datum.value > 40.1 ? '' : datum.value + 'K'","title":"Hourly average activity","titleFontSize":14,"titleFont":"Noto Sans","titleFontWeight":"normal","titleColor":"#333333","titleX":-57,"titleY":414,"titleBaseline":"middle","titleAngle":-90,"labelFontSize":15.5,"labelColor":"#666666","labelFont":"Noto Sans","labelBaseline":{"condition":{"test":"datum.value == 40","value":"top"},"value":"middle"},"domain":false,"ticks":true,"tickSize":77,"tickColor":"#d4d4d4","tickOpacity":{"condition":{"test":"datum.value == 0 || datum.value > 40.1","value":1},"value":0},"labelPadding":-70,"gridColor":"#efefef","labelFlush":true}},
"color":{"field":"s","type":"nominal","scale":{"domain":["W","Sa","Su"],"range":["#c800ff","#00c9c9","#ff6b6b"]},
"legend":{"title":"Weekday","orient":"none","legendX":-78,"legendY":870,"direction":"horizontal","columns":3,"gridAlign":"all","symbolType":"square","symbolSize":256,"symbolStrokeWidth":0,"symbolOffset":4,"labelOffset":7,"labelExpr":"{'W':'Weekday','Sa':'Saturday','Su':'Sunday'}[datum.label]","labelFontSize":15.5,"labelColor":"#555555","labelFont":"Noto Sans","titleFont":"Noto Sans","titleFontSize":14.5,"titleFontWeight":"normal","titleColor":"#333333","columnPadding":55,"titlePadding":10,"encode":{"symbols":{"update":{"fill":{"scale":"color","field":"value"},"opacity":{"value":1}}}}}}
}},
{"mark":{"type":"line","opacity":0},
"encoding":{
"x":{"field":"h","type":"quantitative","axis":{"orient":"top","values":[-0.3,24],"labels":false,"domain":false,"grid":false,"ticks":true,"tickSize":26,"tickColor":"#d4d4d4","title":null}},
"y":{"field":"v","type":"quantitative"}
}}
],
"resolve":{"axis":{"x":"independent"}}
}
},
{
"data":{"name":"y22"},
"bounds":"flush",
"title":{"text":"2022","anchor":"middle","fontSize":15,"fontWeight":"normal","color":"#555555","font":"Noto Sans","offset":4},
"transform":[{"fold":["Su","Sa","W"],"as":["s","v"]}],
"facet":{"column":{"field":"m","type":"ordinal","sort":["Janua..","Febru..","March","April","May","June","July","August","Septe..","October","Nove..","Dece.."],"header":{"title":null,"labelFontSize":14.5,"labelColor":"#666666","labelFont":"Noto Sans","labelPadding":-22,"labelLimit":0}}},
"spacing":0,
"spec":{
"width":57,"height":828,
"layer":[
{"mark":{"type":"line","strokeWidth":3.3},
"encoding":{
"x":{"field":"h","type":"quantitative","scale":{"domain":[-0.3,24],"nice":false,"zero":false},
"axis":{"orient":"bottom","values":[-0.3,11.85,24],"title":null,"grid":false,"domain":false,"ticks":true,"tickSize":26,"tickColor":"#d4d4d4","tickOpacity":{"condition":{"test":"datum.value < 0 || datum.value > 23","value":1},"value":0},"labelExpr":"(datum.value < 0 || datum.value > 23) ? '' : ['1','1']","labelPadding":-22,"labelFontSize":13,"labelColor":"#666666","labelFont":"Noto Sans","labelLineHeight":16,"labelOverlap":false,"labelFlush":false,"labelBaseline":"top"}},
"y":{"field":"v","type":"quantitative","scale":{"domain":[0,40.3],"nice":false},
"axis":{"values":[0,5,10,15,20,25,30,35,40],"labels":false,"title":null,"domain":false,"ticks":false,"gridColor":"#efefef"}},
"color":{"field":"s","type":"nominal","scale":{"domain":["W","Sa","Su"],"range":["#c800ff","#00c9c9","#ff6b6b"]},"legend":null}
}},
{"mark":{"type":"line","opacity":0},
"encoding":{
"x":{"field":"h","type":"quantitative","axis":{"orient":"top","values":[-0.3,24],"labels":false,"domain":false,"grid":false,"ticks":true,"tickSize":26,"tickColor":"#d4d4d4","title":null}},
"y":{"field":"v","type":"quantitative"}
}}
],
"resolve":{"axis":{"x":"independent"}}
}
}
],
"config":{
"view":{"stroke":"#d4d4d4","strokeWidth":1},
"font":"Noto Sans",
"concat":{"spacing":0},
"facet":{"spacing":0}
}
}
